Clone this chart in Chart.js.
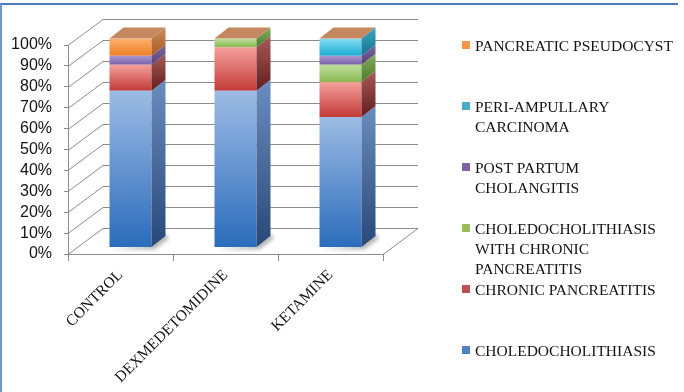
<!DOCTYPE html>
<html>
<head>
<meta charset="utf-8">
<title>Diagnosis by group</title>
<script src="https://cdn.jsdelivr.net/npm/chart.js@4.4.1/dist/chart.umd.min.js"></script>
<style>
  html, body { margin: 0; padding: 0; background: #ffffff; }
  #wrap { position: relative; width: 684px; height: 392px; overflow: hidden; }
  #wrap canvas { position: absolute; left: 0; top: 0; }
  #frame { position: absolute; left: 0; top: 3px; width: 676px; height: 400px;
           border-top: 2px solid #4a78bd; border-left: 2px solid #7096cc; pointer-events: none; }
</style>
</head>
<body>
<div id="wrap">
  <canvas id="chart" width="684" height="392"></canvas>
  <div id="frame"></div>
</div>
<script>
// Groups on the x axis
const groups = ['CONTROL', 'DEXMEDETOMIDINE', 'KETAMINE'];

// Share of patients (%) per diagnosis, one value per group (stacked bottom to top)
const choledocholithiasis        = [75.0, 75.0, 62.5];
const chronicPancreatitis        = [12.5, 20.8, 16.7];
const choledochoWithPancreatitis = [0.0, 4.2, 8.3];
const postPartumCholangitis      = [4.2, 0.0, 4.2];
const periAmpullaryCarcinoma     = [0.0, 0.0, 8.3];
const pancreaticPseudocyst       = [8.3, 0.0, 0.0];

// Legend text, already broken into lines
const seriesNames = [
  ['CHOLEDOCHOLITHIASIS'],
  ['CHRONIC PANCREATITIS'],
  ['CHOLEDOCHOLITHIASIS', 'WITH CHRONIC', 'PANCREATITIS'],
  ['POST PARTUM', 'CHOLANGITIS'],
  ['PERI-AMPULLARY', 'CARCINOMA'],
  ['PANCREATIC PSEUDOCYST']
];

// Value axis tick labels
const yTickLabels = ['0%', '10%', '20%', '30%', '40%', '50%', '60%', '70%', '80%', '90%', '100%'];

const seriesValues = [
  choledocholithiasis, chronicPancreatitis, choledochoWithPancreatitis,
  postPartumCholangitis, periAmpullaryCarcinoma, pancreaticPseudocyst
];

// Face shading per series: front top/bottom, side top/bottom, legend swatch
const palette = [
  { ft: '#9dbbe4', fb: '#2b6cbb', st: '#6a8dbf', sb: '#284878', key: '#4f81bd' },
  { ft: '#f5a09c', fb: '#c23b38', st: '#a85a58', sb: '#621e1d', key: '#c0504d' },
  { ft: '#c3e09f', fb: '#86b852', st: '#86ad5e', sb: '#4d7a2c', key: '#9bbb59' },
  { ft: '#a997cf', fb: '#7c62a8', st: '#7d6a9e', sb: '#55427a', key: '#8064a2' },
  { ft: '#86dcf2', fb: '#17acd2', st: '#3aa6c4', sb: '#16728c', key: '#4bacc6' },
  { ft: '#fcb06c', fb: '#f07d24', st: '#c98a5a', sb: '#a85c22', key: '#f79646' }
];
const TOP_FACE = '#c4875f';

// Oblique projection offsets
const DEPTH_X = 14, DEPTH_Y = -11;        // depth of a column
const WALL_X = 35, WALL_Y = -26;          // depth of floor / walls
const SHIFT_X = 10, SHIFT_Y = -6.5;       // columns sit this far behind the front edge

function segmentSpan(chart, d, i) {
  const y = chart.scales.y;
  let lo = 0;
  for (let k = 0; k < d; k++) lo += seriesValues[k][i];
  const hi = lo + seriesValues[d][i];
  return { top: y.getPixelForValue(hi), bottom: y.getPixelForValue(lo) };
}

function frontFill(c) {
  const pal = palette[c.datasetIndex];
  const chart = c.chart;
  if (!chart.chartArea || c.type !== 'data') return pal.fb;
  const s = segmentSpan(chart, c.datasetIndex, c.dataIndex);
  if (Math.abs(s.bottom - s.top) < 0.5) return pal.fb;
  const g = chart.ctx.createLinearGradient(0, s.top, 0, s.bottom);
  g.addColorStop(0, pal.ft);
  g.addColorStop(1, pal.fb);
  return g;
}

const datasets = seriesValues.map((vals, d) => ({
  label: seriesNames[d].join(' '),
  data: vals,
  backgroundColor: frontFill,
  borderWidth: 0,
  barPercentage: 0.4,
  categoryPercentage: 1.0
}));

// Walls, floor, column sides and tops
const columns3d = {
  id: 'columns3d',
  beforeDatasetsDraw(chart) {
    const { ctx, chartArea: a, scales: { y } } = chart;
    ctx.save();
    ctx.strokeStyle = '#8c8c8c';
    ctx.lineWidth = 1;
    for (let v = 0; v <= 100; v += 10) {
      const py = Math.round(y.getPixelForValue(v)) + 0.5;
      ctx.beginPath();
      ctx.moveTo(a.left, py);
      ctx.lineTo(a.left + WALL_X, py + WALL_Y);
      ctx.lineTo(a.right + WALL_X, py + WALL_Y);
      ctx.stroke();
    }
    const p0 = Math.round(y.getPixelForValue(0)) + 0.5;
    ctx.beginPath();
    ctx.moveTo(a.right, p0);
    ctx.lineTo(a.right + WALL_X, p0 + WALL_Y);
    ctx.stroke();
    ctx.restore();

    ctx.save();
    ctx.translate(SHIFT_X, SHIFT_Y);
    // soft floor shadow under each column
    chart.getDatasetMeta(0).data.forEach(bar => {
      const l = bar.x - bar.width / 2, r = bar.x + bar.width / 2, b = bar.base;
      ctx.save();
      ctx.filter = 'blur(2px)';
      ctx.fillStyle = 'rgba(0,0,0,0.35)';
      ctx.beginPath();
      ctx.moveTo(l + 2, b + 2);
      ctx.lineTo(r + 3, b + 2);
      ctx.lineTo(r + DEPTH_X + 3, b + DEPTH_Y + 2);
      ctx.lineTo(r + DEPTH_X, b + DEPTH_Y - 2);
      ctx.lineTo(r, b - 2);
      ctx.closePath();
      ctx.fill();
      ctx.restore();
    });
  },
  afterDatasetsDraw(chart) {
    const ctx = chart.ctx;
    const n = chart.data.datasets.length;
    for (let d = 0; d < n; d++) {
      const pal = palette[d];
      chart.getDatasetMeta(d).data.forEach(bar => {
        const top = Math.min(bar.y, bar.base), bottom = Math.max(bar.y, bar.base);
        if (bottom - top < 0.3) return;
        const r = bar.x + bar.width / 2;
        const g = ctx.createLinearGradient(0, top + DEPTH_Y, 0, bottom);
        g.addColorStop(0, pal.st);
        g.addColorStop(1, pal.sb);
        ctx.fillStyle = g;
        ctx.beginPath();
        ctx.moveTo(r, top);
        ctx.lineTo(r + DEPTH_X, top + DEPTH_Y);
        ctx.lineTo(r + DEPTH_X, bottom + DEPTH_Y);
        ctx.lineTo(r, bottom);
        ctx.closePath();
        ctx.fill();
      });
    }
    // cap on top of each stack
    chart.getDatasetMeta(n - 1).data.forEach(bar => {
      const l = bar.x - bar.width / 2, r = bar.x + bar.width / 2, t = Math.min(bar.y, bar.base);
      ctx.fillStyle = TOP_FACE;
      ctx.beginPath();
      ctx.moveTo(l, t);
      ctx.lineTo(r, t);
      ctx.lineTo(r + DEPTH_X, t + DEPTH_Y);
      ctx.lineTo(l + DEPTH_X, t + DEPTH_Y);
      ctx.closePath();
      ctx.fill();
    });
    ctx.restore();
  }
};

// Legend on the right, top entry = top of the stack
const sideLegend = {
  id: 'sideLegend',
  afterDraw(chart) {
    const ctx = chart.ctx;
    ctx.save();
    ctx.font = '15.5px "Liberation Serif"';
    ctx.textBaseline = 'middle';
    const n = chart.data.datasets.length;
    for (let i = 0; i < n; i++) {
      const d = n - 1 - i;
      const y0 = 47 + 61 * i;
      ctx.fillStyle = palette[d].key;
      ctx.fillRect(462, y0 - 6, 8, 8);
      ctx.fillStyle = '#141414';
      seriesNames[d].forEach((line, j) => ctx.fillText(line, 475, y0 + 20 * j));
    }
    ctx.restore();
  }
};

new Chart(document.getElementById('chart'), {
  type: 'bar',
  data: { labels: groups, datasets },
  plugins: [columns3d, sideLegend],
  options: {
    responsive: false,
    animation: false,
    layout: { padding: { left: 0, right: 301, top: 45, bottom: 0 } },
    plugins: { legend: { display: false }, tooltip: { enabled: false } },
    scales: {
      x: {
        stacked: true,
        afterFit: s => { s.height = 138; },
        grid: { offset: true, drawOnChartArea: false, tickLength: 7, color: '#8c8c8c' },
        border: { color: '#8c8c8c' },
        ticks: {
          minRotation: 45, maxRotation: 45, padding: 5, autoSkip: false,
          color: '#141414',
          font: { family: 'Liberation Serif', size: 15.5 }
        }
      },
      y: {
        stacked: true,
        min: 0, max: 100,
        afterFit: s => { s.width = 68; },
        grid: { drawOnChartArea: false, tickLength: 4, color: '#8c8c8c' },
        border: { color: '#8c8c8c' },
        ticks: {
          stepSize: 10, padding: 12, autoSkip: false,
          color: '#141414',
          font: { family: 'Liberation Sans', size: 16 },
          callback: v => yTickLabels[Math.round(v / 10)]
        }
      }
    }
  }
});
</script>
</body>
</html>
